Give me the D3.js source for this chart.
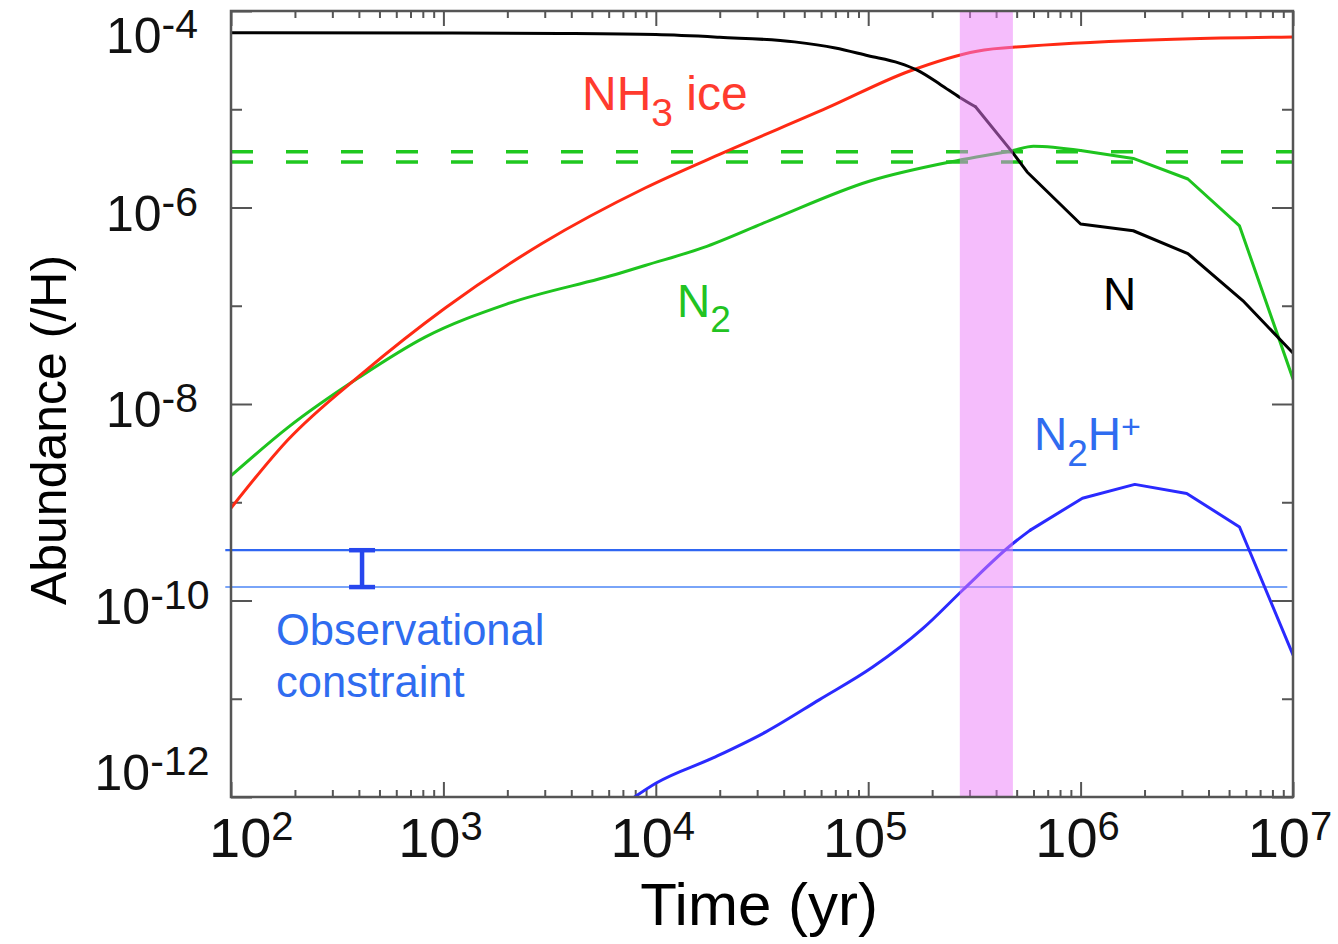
<!DOCTYPE html>
<html><head><meta charset="utf-8">
<script src="https://cdn.jsdelivr.net/npm/d3@7"></script>
<style>
body{margin:0;background:#fff}
svg{display:block}
text{font-family:"Liberation Sans",Arial,Helvetica,sans-serif}
</style>
</head><body>
<svg id="chart" width="1338" height="944"></svg>
<script>
// ---------------- data ----------------
const xTickValues = [1e2, 1e3, 1e4, 1e5, 1e6, 1e7];
const xTickExps = ["2", "3", "4", "5", "6", "7"];
const yTickValues = [1e-4, 1e-6, 1e-8, 1e-10, 1e-12];
const yTickExps = ["-4", "-6", "-8", "-10", "-12"];

const nTime = [100, 1000, 3550, 1e4, 2.0e4, 4.5e4, 7.0e4, 1.0e5, 1.4e5, 1.7e5, 2.2e5, 2.7e5, 3.2e5, 4.8e5, 5.6e5, 1e6, 1.77e6, 3.2e6, 5.8e6, 1e7];
const nAbund = [6.0e-5, 5.96e-5, 5.9e-5, 5.75e-5, 5.4e-5, 4.85e-5, 4.2e-5, 3.5e-5, 2.95e-5, 2.5e-5, 1.77e-5, 1.32e-5, 1.06e-5, 3.6e-6, 2.3e-6, 6.8e-7, 5.8e-7, 3.4e-7, 1.13e-7, 3.3e-8];

const nh3Time = [100, 185, 414, 1020, 2910, 8900, 2.07e4, 6.4e4, 1.57e5, 3.25e5, 5.8e5, 3.03e6, 1e7];
const nh3Abund = [8.7e-10, 4.3e-9, 2.04e-8, 9.5e-8, 4.3e-7, 1.58e-6, 3.6e-6, 1.03e-5, 2.45e-5, 3.9e-5, 4.4e-5, 5.2e-5, 5.45e-5];

const n2Time = [100, 185, 400, 820, 2010, 6760, 8900, 1.67e4, 3.45e4, 1.02e5, 2.62e5, 4.8e5, 6.0e5, 1e6, 1.77e6, 3.2e6, 5.6e6, 1e7];
const n2Abund = [1.86e-9, 5.75e-9, 1.86e-8, 4.8e-8, 1.05e-7, 2.14e-7, 2.57e-7, 3.9e-7, 7.4e-7, 1.86e-6, 3.0e-6, 3.8e-6, 4.2e-6, 3.8e-6, 3.16e-6, 1.95e-6, 6.5e-7, 1.8e-8];

const n2hTime = [7940, 1e4, 1.86e4, 3.3e4, 5.9e4, 1.05e5, 1.81e5, 2.79e5, 4.8e5, 5.8e5, 1.02e6, 1.8e6, 3.16e6, 5.6e6, 1e7];
const n2hAbund = [1.0e-12, 1.38e-12, 2.5e-12, 4.6e-12, 9.8e-12, 2.1e-11, 5.2e-11, 1.28e-10, 3.8e-10, 5.2e-10, 1.1e-9, 1.52e-9, 1.23e-9, 5.6e-10, 2.8e-11];

const n2Reference = [3.7e-6, 2.9e-6];          // dashed green levels
const obsConstraint = [3.25e-10, 1.37e-10];    // N2H+ observed range
const obsSpan = [94, 9.4e6];                   // time extent of constraint lines
const obsBarTime = 414;                        // position of the I-bar
const bandTime = [2.7e5, 4.8e5];               // highlighted interval

// ---------------- layout ----------------
const svg = d3.select("#chart");
const L = 231, R = 1293, T = 11, B = 797;
const x = d3.scaleLog().domain([1e2, 1e7]).range([L, R]);
const y = d3.scaleLog().domain([1e-12, 1e-4]).range([B, T]);
const frameColor = "#555555";

svg.append("defs").append("clipPath").attr("id", "clip")
  .append("rect").attr("x", L).attr("y", T).attr("width", R - L).attr("height", B - T);

const minorX = [];
for (let e = 2; e < 7; e++) for (let m = 2; m <= 9; m++) minorX.push(m * Math.pow(10, e));
const yEven = yTickValues;
const yOdd = [1e-5, 1e-7, 1e-9, 1e-11];

function styleAxis(g) {
  g.select(".domain").remove();
  g.selectAll(".tick line").attr("stroke", frameColor).attr("stroke-width", 2);
  g.selectAll(".tick text").remove();
}
const axes = svg.append("g");
axes.append("g").attr("transform", `translate(0,${B})`).call(d3.axisBottom(x).tickValues(minorX).tickSize(-7).tickFormat("")).call(styleAxis);
axes.append("g").attr("transform", `translate(0,${B})`).call(d3.axisBottom(x).tickValues(xTickValues).tickSize(-15).tickFormat("")).call(styleAxis);
axes.append("g").attr("transform", `translate(0,${T})`).call(d3.axisTop(x).tickValues(minorX).tickSize(-7).tickFormat("")).call(styleAxis);
axes.append("g").attr("transform", `translate(0,${T})`).call(d3.axisTop(x).tickValues(xTickValues).tickSize(-15).tickFormat("")).call(styleAxis);
axes.append("g").attr("transform", `translate(${L},0)`).call(d3.axisLeft(y).tickValues(yEven).tickSize(-21).tickFormat("")).call(styleAxis);
axes.append("g").attr("transform", `translate(${L},0)`).call(d3.axisLeft(y).tickValues(yOdd).tickSize(-11).tickFormat("")).call(styleAxis);
axes.append("g").attr("transform", `translate(${R},0)`).call(d3.axisRight(y).tickValues(yEven).tickSize(-21).tickFormat("")).call(styleAxis);
axes.append("g").attr("transform", `translate(${R},0)`).call(d3.axisRight(y).tickValues(yOdd).tickSize(-11).tickFormat("")).call(styleAxis);

// observational constraint lines
svg.append("line").attr("x1", x(obsSpan[0])).attr("x2", x(obsSpan[1]))
  .attr("y1", y(obsConstraint[0])).attr("y2", y(obsConstraint[0]))
  .attr("stroke", "#2f66f2").attr("stroke-width", 2.2);
svg.append("line").attr("x1", x(obsSpan[0])).attr("x2", x(obsSpan[1]))
  .attr("y1", y(obsConstraint[1])).attr("y2", y(obsConstraint[1]))
  .attr("stroke", "#4d86f6").attr("stroke-width", 1.6);

// I-bar
const bar = svg.append("g").attr("stroke", "#2747ee").attr("stroke-width", 4.5);
bar.append("line").attr("x1", x(obsBarTime)).attr("x2", x(obsBarTime)).attr("y1", y(obsConstraint[0])).attr("y2", y(obsConstraint[1]));
bar.append("line").attr("x1", x(obsBarTime) - 13).attr("x2", x(obsBarTime) + 13).attr("y1", y(obsConstraint[0])).attr("y2", y(obsConstraint[0]));
bar.append("line").attr("x1", x(obsBarTime) - 13).attr("x2", x(obsBarTime) + 13).attr("y1", y(obsConstraint[1])).attr("y2", y(obsConstraint[1]));

const plot = svg.append("g").attr("clip-path", "url(#clip)");

n2Reference.forEach(v => {
  plot.append("line").attr("x1", L).attr("x2", R).attr("y1", y(v)).attr("y2", y(v))
    .attr("stroke", "#1fc81f").attr("stroke-width", 3.5).attr("stroke-dasharray", "22,33");
});

// smooth (monotone) up to a given time, straight segments afterwards
const smoothLine = d3.line().x(d => x(d[0])).y(d => y(d[1])).curve(d3.curveMonotoneX);
const straightLine = d3.line().x(d => x(d[0])).y(d => y(d[1]));
function series(ts, vs, color, w, smoothUntil) {
  const pts = ts.map((t, i) => [t, vs[i]]);
  const a = pts.filter(p => p[0] <= smoothUntil);
  const b = pts.filter(p => p[0] >= a[a.length - 1][0]);
  const g = plot.append("g").attr("fill", "none").attr("stroke", color)
    .attr("stroke-width", w).attr("stroke-linejoin", "round").attr("stroke-linecap", "round");
  g.append("path").datum(a).attr("d", smoothLine);
  if (b.length > 1) g.append("path").datum(b).attr("d", straightLine);
}
series(n2Time, n2Abund, "#1ec41e", 3, 1e6);
series(nh3Time, nh3Abund, "#ff2a14", 3, 1e7);
series(nTime, nAbund, "#000000", 3, 3.2e5);
series(n2hTime, n2hAbund, "#2a2aff", 3, 5.8e5);

// highlighted time interval
plot.append("rect").attr("x", x(bandTime[0])).attr("width", x(bandTime[1]) - x(bandTime[0]))
  .attr("y", T).attr("height", B - T).attr("fill", "#eb7bf9").attr("fill-opacity", 0.5);

// frame
svg.append("rect").attr("x", L).attr("y", T).attr("width", R - L).attr("height", B - T)
  .attr("fill", "none").attr("stroke", frameColor).attr("stroke-width", 2.5);

// tick labels
yTickValues.forEach((v, i) => {
  const base = Math.max(53, Math.min(790, y(v) + 23));
  const t = svg.append("text").attr("x", 152).attr("y", base).attr("text-anchor", "middle")
    .attr("fill", "#111").style("font-size", "50px");
  t.append("tspan").text("10");
  t.append("tspan").attr("dy", -15).style("font-size", "41px").text(yTickExps[i]);
});
xTickValues.forEach((v, i) => {
  const t = svg.append("text").attr("y", 857).attr("text-anchor", "middle")
    .attr("fill", "#111").style("font-size", "56px");
  t.append("tspan").text("10");
  t.append("tspan").attr("dy", -17).style("font-size", "40px").text(xTickExps[i]);
  const w = t.node().getComputedTextLength();
  t.attr("x", Math.max(x(v) - 3, 209 + w / 2));
});

// axis titles
svg.append("text").attr("x", 759).attr("y", 925).attr("text-anchor", "middle")
  .style("font-size", "60px").attr("fill", "#000").text("Time (yr)");
svg.append("text").attr("transform", "translate(66,430) rotate(-90)").attr("text-anchor", "middle")
  .style("font-size", "50px").attr("fill", "#000").text("Abundance (/H)");

// curve labels
const nh3 = svg.append("text").attr("x", 582).attr("y", 110).attr("fill", "#ff3b2e").style("font-size", "48px");
nh3.append("tspan").text("NH");
nh3.append("tspan").attr("dy", 16).style("font-size", "39px").text("3");
nh3.append("tspan").attr("dy", -16).text(" ice");

const n2l = svg.append("text").attr("x", 677).attr("y", 317).attr("fill", "#22c322").style("font-size", "46px");
n2l.append("tspan").text("N");
n2l.append("tspan").attr("dy", 15).style("font-size", "37px").text("2");

svg.append("text").attr("x", 1103).attr("y", 310).attr("fill", "#000").style("font-size", "46px").text("N");

const n2h = svg.append("text").attr("x", 1034).attr("y", 450).attr("fill", "#2f6cf0").style("font-size", "46px");
n2h.append("tspan").text("N");
n2h.append("tspan").attr("dy", 16).style("font-size", "37px").text("2");
n2h.append("tspan").attr("dy", -16).text("H");
n2h.append("tspan").attr("dy", -12).style("font-size", "34px").text("+");

svg.append("text").attr("x", 276).attr("y", 645).attr("fill", "#2f6cf0").style("font-size", "43.5px").text("Observational");
svg.append("text").attr("x", 276).attr("y", 697).attr("fill", "#2f6cf0").style("font-size", "43.5px").text("constraint");
</script>
</body></html>
